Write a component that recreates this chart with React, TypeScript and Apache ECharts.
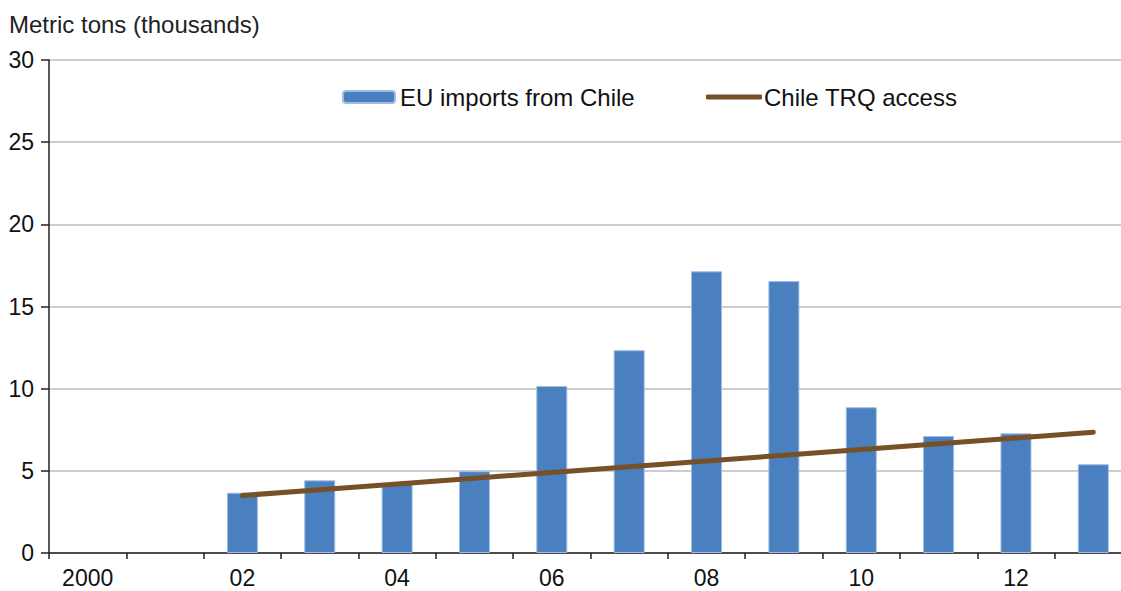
import React, { useEffect, useRef } from "react";
import * as echarts from "echarts";

const years = ["2000", "2001", "2002", "2003", "2004", "2005", "2006", "2007", "2008", "2009", "2010", "2011", "2012", "2013"];
const tickLabels = ["2000", "", "02", "", "04", "", "06", "", "08", "", "10", "", "12", ""];
const euImports = [null, null, 3.67, 4.42, 4.22, 4.98, 10.16, 12.34, 17.14, 16.55, 8.87, 7.12, 7.28, 5.4];
const trqAccess = [null, null, 3.5, 3.85, 4.2, 4.55, 4.9, 5.25, 5.6, 5.95, 6.3, 6.65, 7.0, 7.35];
const yTicks = [0, 5, 10, 15, 20, 25, 30];

const FONT = "'Liberation Sans', Arial, Helvetica, sans-serif";
const BROWN = "#775028";

export default function App() {
  const ref = useRef<HTMLDivElement>(null);
  useEffect(() => {
    if (!ref.current) return;
    const chart = echarts.init(ref.current, null, { renderer: "svg" });
    chart.setOption({
      animation: false,
      backgroundColor: "#ffffff",
      textStyle: { fontFamily: FONT },
      graphic: [
        {
          type: "text",
          left: 9,
          top: 12,
          style: { text: "Metric tons (thousands)", fontSize: 24, fontFamily: FONT, fill: "#222" },
        },
      ],
      legend: [
        {
          data: ["EU imports from Chile"],
          left: 342,
          top: 85,
          padding: 0,
          itemWidth: 52,
          itemHeight: 12,
          itemGap: 0,
          textStyle: { fontSize: 24, color: "#111", fontFamily: FONT, lineHeight: 24 },
        },
        {
          data: [{ name: "Chile TRQ access", icon: "roundRect" }],
          left: 706,
          top: 85,
          padding: 0,
          itemWidth: 56,
          itemHeight: 5,
          itemGap: 0,
          itemStyle: { color: BROWN },
          textStyle: { fontSize: 24, color: "#111", fontFamily: FONT, lineHeight: 24, padding: [0, 0, 0, -3] },
        },
      ],
      grid: { left: 49, top: 60, width: 1083, height: 493, containLabel: false },
      xAxis: {
        type: "category",
        data: years,
        boundaryGap: true,
        axisLine: { lineStyle: { color: "#222", width: 1.5 } },
        axisTick: { show: true, length: 6, interval: 0, lineStyle: { color: "#222", width: 1.5 } },
        axisLabel: {
          interval: 0,
          margin: 13,
          fontSize: 23,
          color: "#111",
          fontFamily: FONT,
          formatter: (_v: string, i: number) => tickLabels[i],
        },
        splitLine: { show: false },
      },
      yAxis: {
        type: "value",
        min: yTicks[0],
        max: yTicks[yTicks.length - 1],
        interval: 5,
        axisLine: { show: true, lineStyle: { color: "#222", width: 1.5 } },
        axisTick: { show: true, length: 8, lineStyle: { color: "#222", width: 1.5 } },
        axisLabel: { margin: 15, fontSize: 23, color: "#111", fontFamily: FONT },
        splitLine: { show: true, lineStyle: { color: "#bdbdbd", width: 1.5 } },
      },
      series: [
        {
          name: "EU imports from Chile",
          type: "bar",
          data: euImports,
          barWidth: 31,
          itemStyle: { color: "#4a7fc0", borderColor: "#9fbde2", borderWidth: 1 },
        },
        {
          name: "Chile TRQ access",
          type: "line",
          data: trqAccess,
          symbol: "none",
          lineStyle: { color: BROWN, width: 5, cap: "round" },
          itemStyle: { color: BROWN },
        },
      ],
    });
    return () => chart.dispose();
  }, []);
  return (
    <div style={{ position: "absolute", left: 0, top: 0, width: 1121, height: 591, overflow: "hidden" }}>
      <div ref={ref} style={{ width: 1145, height: 591 }} />
    </div>
  );
}
